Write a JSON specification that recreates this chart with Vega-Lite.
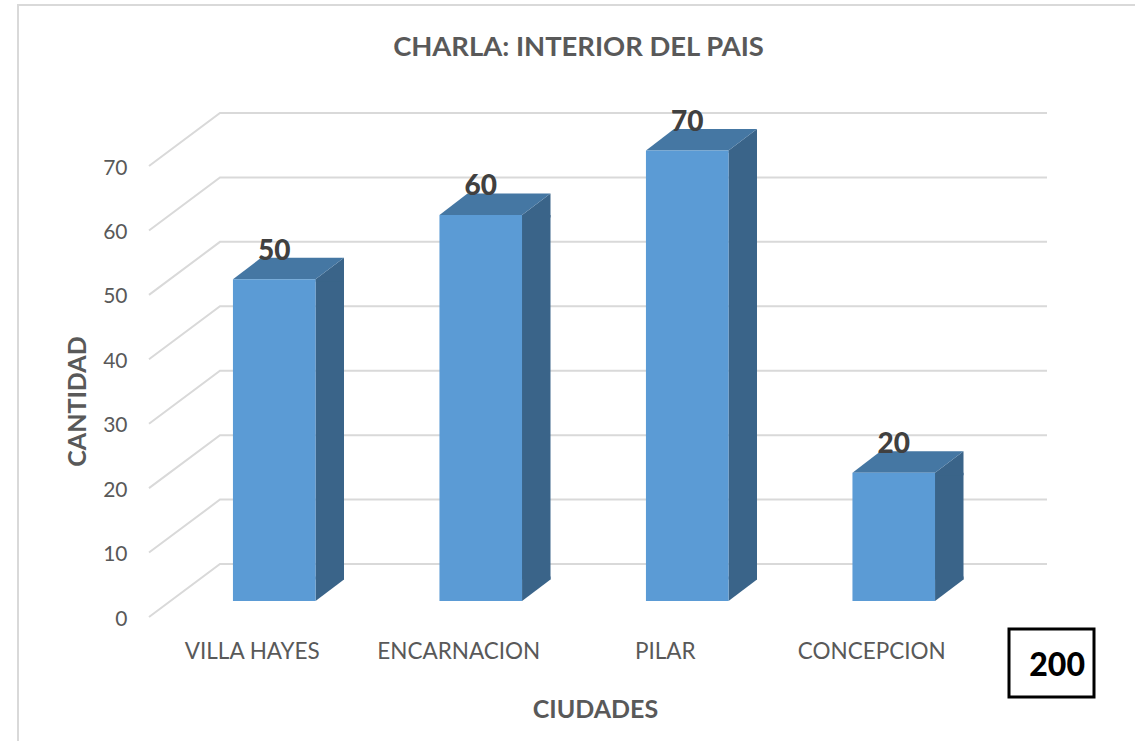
{
  "$schema": "https://vega.github.io/schema/vega-lite/v6.json",
  "width": 1135, "height": 741, "padding": 0, "autosize": {"type": "none"},
  "background": "white",
  "config": {"view": {"stroke": null}, "font": "Lato"},
  "title": {"text": "CHARLA: INTERIOR DEL PAIS", "font": "Lato", "fontSize": 27.4, "fontWeight": "bold", "color": "#595959", "anchor": "middle", "baseline": "alphabetic", "offset": 0, "dy": 83, "dx": 11},
  "datasets": {
    "bars": [
      {"ciudad": "VILLA HAYES", "cantidad": 50},
      {"ciudad": "ENCARNACION", "cantidad": 60},
      {"ciudad": "PILAR", "cantidad": 70},
      {"ciudad": "CONCEPCION", "cantidad": 20}
    ],
    "ticks": [{"v": 0}, {"v": 10}, {"v": 20}, {"v": 30}, {"v": 40}, {"v": 50}, {"v": 60}, {"v": 70}],
    "total": [{"etiqueta": "TOTAL", "total": 200}]
  },
  "layer": [
    {
      "data": {"name": "ticks"},
      "mark": {"type": "point", "shape": "M-103.25 0 L-32.25 -53 L794.75 -53", "size": 4, "filled": false, "stroke": "#d9d9d9", "strokeWidth": 2, "opacity": 1},
      "encoding": {
        "x": {"datum": "VILLA HAYES", "type": "nominal",
          "scale": {"type": "band", "domain": ["VILLA HAYES", "ENCARNACION", "PILAR", "CONCEPCION"], "range": [149, 975], "paddingInner": 0.6, "paddingOuter": 0.3},
          "axis": {"title": "CIUDADES", "orient": "bottom", "domain": false, "ticks": false, "grid": false, "labelAngle": 0, "offset": -101, "labelPadding": 0, "labelFont": "Lato", "labelFontSize": 22.5, "labelColor": "#595959", "labelBaseline": "top", "titleFont": "Lato", "titleFontSize": 25, "titleFontWeight": "bold", "titleColor": "#595959", "titleX": 595, "titleY": 77, "titleBaseline": "alphabetic", "titleAnchor": "middle"}},
        "y": {"field": "v", "type": "quantitative",
          "scale": {"domain": [0, 70], "range": [617, 166], "nice": false, "zero": true},
          "axis": {"title": "CANTIDAD", "orient": "left", "values": [0, 10, 20, 30, 40, 50, 60, 70], "domain": false, "ticks": false, "grid": false, "offset": -134, "labelPadding": 7, "labelOffset": 2, "labelFont": "Lato", "labelFontSize": 21, "labelColor": "#595959", "titleFont": "Lato", "titleFontSize": 25, "titleFontWeight": "bold", "titleColor": "#595959", "titleX": -57, "titleY": 401, "titleAngle": 270, "titleBaseline": "middle", "titleAnchor": "middle"}}
      }
    },
    {
      "data": {"name": "bars"},
      "mark": {"type": "bar", "color": "#3a6489", "size": 28.5, "xOffset": 77.5, "yOffset": -15.5, "y2Offset": -37.5},
      "encoding": {
        "x": {"field": "ciudad", "type": "nominal", "title": "CIUDADES"},
        "y": {"field": "cantidad", "type": "quantitative", "title": "CANTIDAD"},
        "y2": {"datum": 0}
      }
    },
    {
      "data": {"name": "bars"},
      "mark": {"type": "point", "shape": "M63.3 -15.5 L91.75 -37 L91.75 -13 L63.3 -13 Z", "size": 4, "filled": true, "color": "#3a6489", "strokeWidth": 0, "opacity": 1},
      "encoding": {
        "x": {"field": "ciudad", "type": "nominal", "title": "CIUDADES"},
        "y": {"field": "cantidad", "type": "quantitative", "title": "CANTIDAD"}
      }
    },
    {
      "data": {"name": "bars"},
      "mark": {"type": "point", "shape": "M63.3 -40.5 L91.75 -40.5 L91.75 -37.5 L63.3 -16 Z", "size": 4, "filled": true, "color": "#3a6489", "strokeWidth": 0, "opacity": 1},
      "encoding": {
        "x": {"field": "ciudad", "type": "nominal", "title": "CIUDADES"},
        "y": {"datum": 0}
      }
    },
    {
      "data": {"name": "bars"},
      "mark": {"type": "point", "shape": "M-19.25 -15.5 L63.3 -15.5 L91.75 -37 L8.75 -37 Z", "size": 4, "filled": true, "color": "#4577a3", "strokeWidth": 0, "opacity": 1},
      "encoding": {
        "x": {"field": "ciudad", "type": "nominal", "title": "CIUDADES"},
        "y": {"field": "cantidad", "type": "quantitative", "title": "CANTIDAD"}
      }
    },
    {
      "data": {"name": "bars"},
      "mark": {"type": "bar", "color": "#5b9bd5", "xOffset": 22, "yOffset": -15.5, "y2Offset": -16},
      "encoding": {
        "x": {"field": "ciudad", "type": "nominal", "title": "CIUDADES"},
        "y": {"field": "cantidad", "type": "quantitative", "title": "CANTIDAD"},
        "y2": {"datum": 0}
      }
    },
    {
      "data": {"name": "bars"},
      "mark": {"type": "text", "font": "Lato", "fontSize": 28, "fontWeight": 900, "color": "#404040", "align": "center", "baseline": "alphabetic", "xOffset": 22, "yOffset": -35},
      "encoding": {
        "x": {"field": "ciudad", "type": "nominal", "title": "CIUDADES"},
        "y": {"field": "cantidad", "type": "quantitative", "title": "CANTIDAD"},
        "text": {"field": "cantidad", "type": "quantitative"}
      }
    },
    {
      "data": {"name": "total"},
      "mark": {"type": "point", "shape": "M-234.25 130 L-234.25 -612 L890 -612", "size": 4, "filled": false, "stroke": "#d9d9d9", "strokeWidth": 2, "opacity": 1},
      "encoding": {
        "x": {"datum": "VILLA HAYES", "type": "nominal"},
        "y": {"datum": 0}
      }
    },
    {
      "data": {"name": "total"},
      "mark": {"type": "point", "shape": "M137.25 12 L222.25 12 L222.25 80 L137.25 80 Z", "size": 4, "filled": true, "fill": "white", "stroke": "black", "strokeWidth": 3, "opacity": 1},
      "encoding": {
        "x": {"datum": "CONCEPCION", "type": "nominal"},
        "y": {"datum": 0}
      }
    },
    {
      "data": {"name": "total"},
      "mark": {"type": "text", "font": "Lato", "fontSize": 32, "fontWeight": 900, "color": "black", "align": "right", "baseline": "alphabetic", "xOffset": 213.25, "yOffset": 59},
      "encoding": {
        "x": {"datum": "CONCEPCION", "type": "nominal"},
        "y": {"datum": 0},
        "text": {"field": "total", "type": "quantitative"}
      }
    }
  ]
}
